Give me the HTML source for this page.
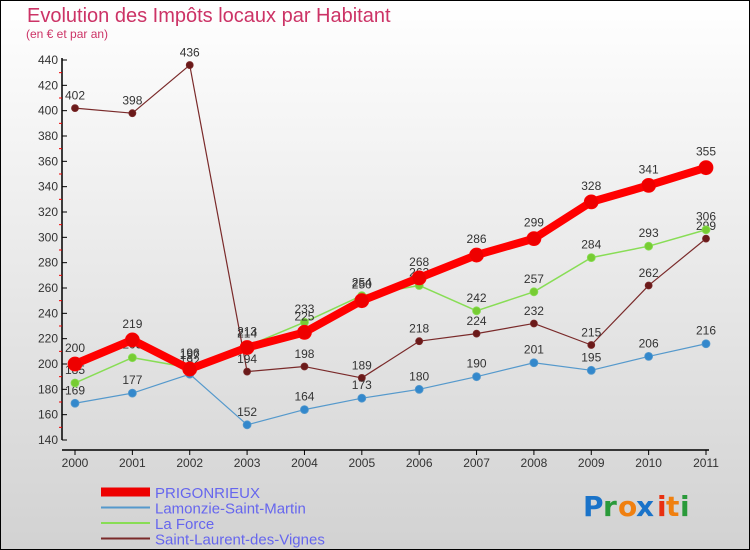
<!DOCTYPE html>
<html><head><meta charset="utf-8"><style>
html,body{margin:0;padding:0;}
body{width:750px;height:550px;overflow:hidden;font-family:"Liberation Sans",sans-serif;}
</style></head><body>
<svg id="chart" width="750" height="550" xmlns="http://www.w3.org/2000/svg" style="display:block">
<defs><linearGradient id="bg" x1="0" y1="0" x2="0" y2="1"><stop offset="0" stop-color="#ffffff"/><stop offset="1" stop-color="#d2d2d2"/></linearGradient></defs>
<rect x="0.5" y="0.5" width="749" height="549" fill="url(#bg)" stroke="#000"/>
<text x="27" y="22" font-size="20" fill="#cc3366">Evolution des Impôts locaux par Habitant</text>
<text x="26" y="38" font-size="12" fill="#cc3366">(en € et par an)</text>
<g id="axes"></g>
<g id="series"></g>
<g id="legend"></g>
<g font-size="28" font-weight="bold" font-family="'DejaVu Sans',sans-serif">
<text x="583" y="516" fill="#1a73c9">P</text><text x="603" y="516" fill="#2a9a3a">r</text><text x="618" y="516" fill="#f08010">o</text><text x="636" y="516" fill="#1a73c9">x</text><text x="657" y="516" fill="#e83010">i</text><text x="666" y="516" fill="#f08010">t</text><text x="680" y="516" fill="#2a9a3a">i</text>
</g>
</svg>
<script>
const years=["2000","2001","2002","2003","2004","2005","2006","2007","2008","2009","2010","2011"];
const yTicks=[140,160,180,200,220,240,260,280,300,320,340,360,380,400,420,440];
const prigonrieux=[200,219,196,213,225,250,268,286,299,328,341,355];
const lamonzie=[169,177,192,152,164,173,180,190,201,195,206,216];
const laForce=[185,205,197,214,233,254,262,242,257,284,293,306];
const saintLaurent=[402,398,436,194,198,189,218,224,232,215,262,299];
const seriesNames=["PRIGONRIEUX","Lamonzie-Saint-Martin","La Force","Saint-Laurent-des-Vignes"];
const NS="http://www.w3.org/2000/svg";
const x=i=>75+i*(706-75)/11;
const y=v=>440-(v-140)*380/300;
function mk(tag,attrs,parent,txt){const e=document.createElementNS(NS,tag);for(const k in attrs)e.setAttribute(k,attrs[k]);if(txt!==undefined)e.textContent=txt;parent.appendChild(e);return e;}
const axes=document.getElementById('axes');
let e=mk('line',{x1:62,y1:y(440)-2,x2:62,y2:y(140),stroke:'#000','stroke-width':1.5},axes);


e=mk('line',{x1:62,y1:450,x2:x(11)+3,y2:450,stroke:'#000','stroke-width':1.5},axes);


yTicks.forEach(t=>{
  mk('line',{x1:62,y1:y(t),x2:67,y2:y(t),stroke:'#000'},axes);
  if(t<440) mk('line',{x1:59,y1:y(t+10),x2:62,y2:y(t+10),stroke:'#e00'},axes);
  const l=mk('text',{x:58,y:y(t)+4,'font-size':12,'text-anchor':'end',fill:'#333'},axes,String(t));
  
  
});
years.forEach((yr,i)=>{
  mk('line',{x1:x(i),y1:450,x2:x(i),y2:455,stroke:'#000'},axes);
  const l=mk('text',{x:x(i),y:467,'font-size':12,'text-anchor':'middle',fill:'#333'},axes,yr);
  
  
});
const sg=document.getElementById('series');
function draw(vals,color,lw,r,dot,name){
  const g=mk('g',{},sg);
  
  
  mk('polyline',{points:vals.map((v,i)=>x(i)+','+y(v)).join(' '),fill:'none',stroke:color,'stroke-width':lw,'stroke-linejoin':'round'},g);
  vals.forEach((v,i)=>{
    const c=mk('circle',{cx:x(i),cy:y(v),r:r,fill:dot,stroke:color,'stroke-width':0.8},g);
    
    
    const t=mk('text',{x:x(i),y:y(v)-r-5,'font-size':12,'text-anchor':'middle',fill:'#333'},g,String(v));
    
    
  });
}
draw(saintLaurent,'#7a2a2a',1.2,3.5,'#6b1a1a','series-saint-laurent');
draw(lamonzie,'#5599cc',1.2,4,'#3388cc','series-lamonzie');
draw(laForce,'#88dd55',1.5,4,'#77cc33','series-la-force');
draw(prigonrieux,'#ff0000',8,7,'#ee0000','series-prigonrieux');
const lg=document.getElementById('legend');
const lc=[['#ee0000',9],['#5599cc',2],['#88dd55',2],['#7a2a2a',2]];
seriesNames.forEach((n,i)=>{
  const yy=492+i*15.5;
  const g=mk('g',{},lg);
  
  
  mk('line',{x1:101,y1:yy,x2:150,y2:yy,stroke:lc[i][0],'stroke-width':lc[i][1]},g);
  mk('text',{x:155,y:yy+6,'font-size':15,fill:'#6666ee'},g,n);
});
</script>
</body></html>
